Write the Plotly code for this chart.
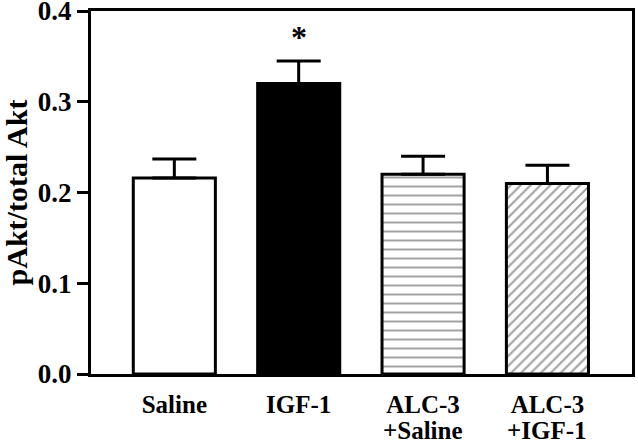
import plotly.graph_objects as go

groups = ["Saline", "IGF-1", "ALC-3", "ALC-3"]
subgroups = ["", "", "+Saline", "+IGF-1"]
means = [0.216, 0.320, 0.220, 0.210]
sems = [0.021, 0.025, 0.020, 0.020]
patterns = ["", "", "-", "/"]
fills = ["white", "black", "white", "white"]

SERIF = "Liberation Serif, Times New Roman, serif"
pos = list(range(len(groups)))

fig = go.Figure()
fig.add_trace(go.Bar(
    x=pos, y=means, width=0.66,
    marker=dict(color=fills, line=dict(color="black", width=3),
                pattern=dict(shape=patterns, fgcolor=["#333", "#333", "#777", "#555"],
                             bgcolor="white", size=[8, 8, 9, 7], solidity=[0.2, 0.2, 0.22, 0.3])),
    error_y=dict(type="data", array=sems, arrayminus=[0] * len(sems), symmetric=False,
                 color="black", thickness=3, width=22),
))

# significance marker over IGF-1
fig.add_annotation(x=1, y=means[1] + sems[1], yshift=4, text="<b>*</b>", showarrow=False,
                   yanchor="bottom", font=dict(family=SERIF, size=32, color="black"))

# second line of the group labels, set tighter than plotly's default line height
for p, s in zip(pos, subgroups):
    if s:
        fig.add_annotation(x=p, y=0, yref="paper", yanchor="top", yshift=-41,
                           text="<b>%s</b>" % s, showarrow=False,
                           font=dict(family=SERIF, size=25, color="black"))

fig.update_layout(width=638, height=444, margin=dict(l=91, r=6, t=11, b=70),
                  paper_bgcolor="white", plot_bgcolor="white", showlegend=False,
                  font=dict(family=SERIF, color="black"))
fig.update_xaxes(range=[-0.67, 3.68], tickvals=pos, ticktext=["<b>%s</b>" % g for g in groups],
                 showline=True, linecolor="black", linewidth=3, mirror=True, ticks="",
                 ticklabelstandoff=6,
                 showgrid=False, zeroline=False, tickfont=dict(size=25), automargin=False)
fig.update_yaxes(range=[0, 0.4], tickvals=[0, 0.1, 0.2, 0.3, 0.4],
                 ticktext=["<b>0.0</b>", "<b>0.1</b>", "<b>0.2</b>", "<b>0.3</b>", "<b>0.4</b>"],
                 showline=True, linecolor="black", linewidth=3, mirror=True,
                 ticks="outside", ticklen=11, tickwidth=3, tickcolor="black",
                 ticklabeloverflow="allow",
                 showgrid=False, zeroline=False, tickfont=dict(size=27), automargin=False,
                 title=dict(text="<b>pAkt/total Akt</b>", font=dict(size=30), standoff=6))

fig.write_html("out.html", config={"displayModeBar": False},
               post_script="document.body.style.margin='0';")
